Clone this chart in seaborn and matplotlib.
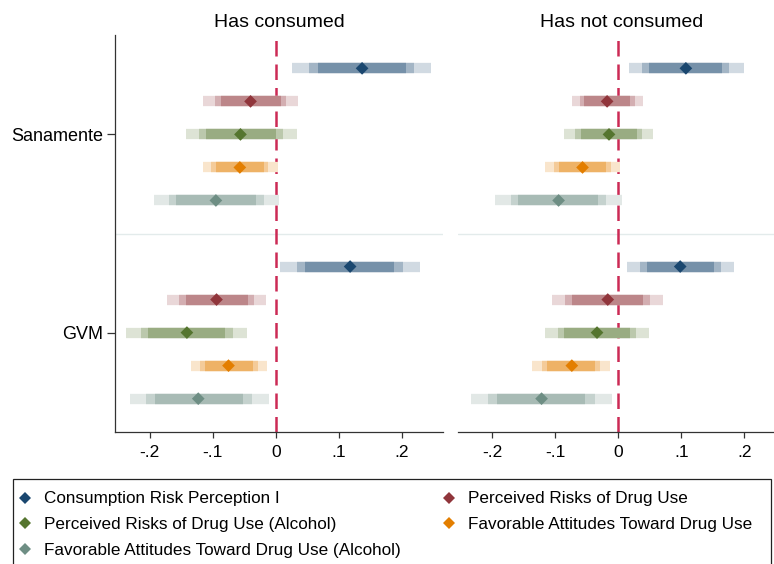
import numpy as np
import pandas as pd
import matplotlib
matplotlib.use("Agg")
import matplotlib.pyplot as plt
from matplotlib.patches import Rectangle
from matplotlib.lines import Line2D
import matplotlib.colors as mcolors
import seaborn as sns

# ---------------- data ----------------
panels = ["Has consumed", "Has not consumed"]
groups = ["Sanamente", "GVM"]
measures = [
    "Consumption Risk Perception I",
    "Perceived Risks of Drug Use",
    "Perceived Risks of Drug Use (Alcohol)",
    "Favorable Attitudes Toward Drug Use",
    "Favorable Attitudes Toward Drug Use (Alcohol)",
]
colors = ["#1a476f", "#90353b", "#55752f", "#e37e00", "#6e8e84"]
xtick_values = [-0.2, -0.1, 0.0, 0.1, 0.2]
xtick_labels = ["-.2", "-.1", "0", ".1", ".2"]

# order: Sanamente (5 measures), then GVM (5 measures)
coef_consumed  = [0.137, -0.040, -0.056, -0.057, -0.095,   0.118, -0.094, -0.141, -0.075, -0.123]
lo99_consumed  = [0.026, -0.115, -0.143, -0.116, -0.194,   0.006, -0.172, -0.238, -0.135, -0.232]
hi99_consumed  = [0.247,  0.035,  0.033,  0.003,  0.005,   0.229, -0.015, -0.045, -0.014, -0.011]
lo95_consumed  = [0.053, -0.096, -0.122, -0.102, -0.170,   0.034, -0.153, -0.214, -0.120, -0.206]
hi95_consumed  = [0.220,  0.016,  0.012, -0.012, -0.019,   0.202, -0.034, -0.068, -0.028, -0.038]
lo90_consumed  = [0.067, -0.087, -0.111, -0.095, -0.158,   0.047, -0.142, -0.202, -0.112, -0.192]
hi90_consumed  = [0.207,  0.008,  0.001, -0.019, -0.031,   0.188, -0.044, -0.080, -0.036, -0.052]

coef_notcons   = [0.107, -0.018, -0.015, -0.057, -0.095,   0.098, -0.017, -0.034, -0.074, -0.122]
lo99_notcons   = [0.016, -0.074, -0.086, -0.117, -0.196,   0.014, -0.105, -0.116, -0.137, -0.234]
hi99_notcons   = [0.199,  0.039,  0.055,  0.003,  0.005,   0.183,  0.071,  0.048, -0.014, -0.011]
lo95_notcons   = [0.038, -0.061, -0.069, -0.102, -0.171,   0.034, -0.085, -0.096, -0.121, -0.207]
hi95_notcons   = [0.176,  0.026,  0.038, -0.012, -0.020,   0.162,  0.050,  0.028, -0.029, -0.038]
lo90_notcons   = [0.049, -0.054, -0.060, -0.095, -0.159,   0.045, -0.073, -0.086, -0.113, -0.193]
hi90_notcons   = [0.165,  0.018,  0.029, -0.020, -0.032,   0.151,  0.039,  0.018, -0.037, -0.053]

panel_data = [
    (coef_consumed, lo99_consumed, hi99_consumed, lo95_consumed, hi95_consumed, lo90_consumed, hi90_consumed),
    (coef_notcons, lo99_notcons, hi99_notcons, lo95_notcons, hi95_notcons, lo90_notcons, hi90_notcons),
]

# row positions (top to bottom): group rows 1..5 and 7..11
row_pos = [1, 2, 3, 4, 5, 7, 8, 9, 10, 11]
group_tick_pos = [3, 9]

# ---------------- style ----------------
sns.set_theme(style="white")
plt.rcParams["font.family"] = ["Liberation Sans", "DejaVu Sans"]
plt.rcParams["text.color"] = "black"
plt.rcParams["xtick.labelcolor"] = "black"
plt.rcParams["ytick.labelcolor"] = "black"

W, H = 774, 564
fig = plt.figure(figsize=(W / 100, H / 100), dpi=100)

ax_w = 328 / W
ax_b = (H - 431.7) / H
ax_h = 396.4 / H
axes = [fig.add_axes([115 / W, ax_b, ax_w, ax_h]),
        fig.add_axes([457.7 / W, ax_b, ax_w, ax_h])]

def blend(c, a):
    r = np.array(mcolors.to_rgb(c))
    return tuple(a * r + (1 - a) * np.ones(3))

bar_lw = 7.4
xlim = (-0.2551, 0.2654)

for pi, ax in enumerate(axes):
    coef, lo99, hi99, lo95, hi95, lo90, hi90 = panel_data[pi]
    df = pd.DataFrame({
        "coef": coef,
        "row": row_pos,
        "measure": measures * 2,
        "group": [g for g in groups for _ in measures],
    })
    # separator between groups
    ax.axhline(6, color="#e3ebeb", lw=1.0, zorder=0)
    # zero line
    ax.axvline(0, color="#cc2a55", lw=1.8, dashes=(6.2, 3.2), zorder=1)
    # confidence bars
    for i in range(len(row_pos)):
        c = colors[i % 5]
        ax.hlines(row_pos[i], lo99[i], hi99[i], colors=[blend(c, 0.2)], lw=bar_lw, zorder=2, capstyle="butt")
        ax.hlines(row_pos[i], lo95[i], hi95[i], colors=[blend(c, 0.4)], lw=bar_lw, zorder=3, capstyle="butt")
        ax.hlines(row_pos[i], lo90[i], hi90[i], colors=[blend(c, 0.6)], lw=bar_lw, zorder=4, capstyle="butt")
    sns.scatterplot(data=df, x="coef", y="row", hue="measure", hue_order=measures,
                    palette=colors, marker="D", s=42, linewidth=0, ax=ax,
                    legend=False, zorder=5)
    ax.set_xlim(*xlim)
    ax.set_ylim(12, 0)
    ax.set_xlabel("")
    ax.set_ylabel("")
    ax.set_xticks(xtick_values)
    ax.set_xticklabels(xtick_labels, fontsize=12.5)
    ax.tick_params(axis="x", direction="out", length=4.5, width=0.9, color="#333333",
                   pad=5, bottom=True)
    ax.set_title(panels[pi], fontsize=14, pad=6, color="black")
    for s in ["top", "right"]:
        ax.spines[s].set_visible(False)
    ax.spines["bottom"].set_color("#333333")
    ax.spines["bottom"].set_linewidth(0.9)
    ax.set_facecolor("none")
    if pi == 0:
        ax.set_yticks(group_tick_pos)
        ax.set_yticklabels(groups, fontsize=13)
        ax.tick_params(axis="y", direction="out", length=5.5, width=0.9, color="#333333",
                       pad=3, left=True)
        ax.spines["left"].set_color("#333333")
        ax.spines["left"].set_linewidth(0.9)
    else:
        ax.set_yticks([])
        ax.spines["left"].set_visible(False)

# ---------------- legend ----------------
order = [0, 2, 4, 1, 3]
handles = [Line2D([], [], ls="none", marker="D", markersize=6.2, markeredgewidth=0,
                  color=colors[k]) for k in order]
labels = [measures[k] for k in order]
fs = 12.3
leg = fig.legend(handles, labels, loc="upper left",
                 bbox_to_anchor=(18 / W, 1 - 491.5 / H), ncol=2, frameon=False,
                 fontsize=fs, handlelength=0.8, handletextpad=0.7,
                 columnspacing=2.47, labelspacing=0.64, borderpad=0, borderaxespad=0)
for t in leg.get_texts():
    t.set_color("black")
fig.patches.append(Rectangle((12.7 / W, -0.05), (770.7 - 12.7) / W, (H - 479) / H + 0.05,
                             transform=fig.transFigure, fill=False, edgecolor="#222222",
                             lw=0.9, zorder=10))

fig.savefig("out.png", dpi=100)
